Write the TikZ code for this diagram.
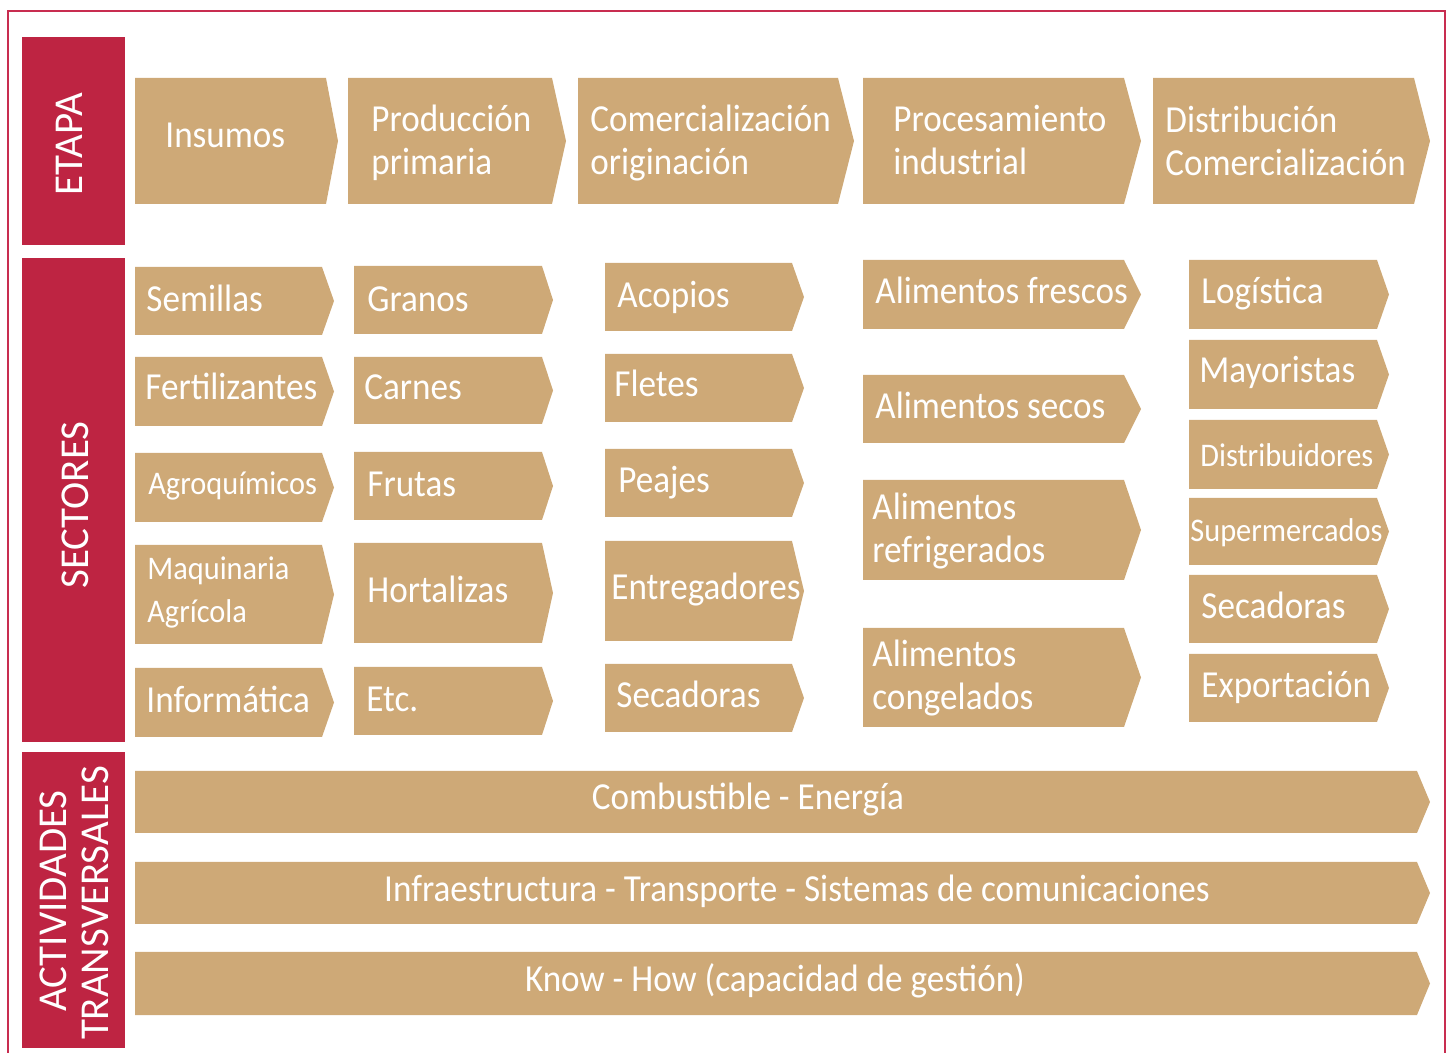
\documentclass[tikz,border=0pt]{standalone}
\usepackage{fontspec}
\setmainfont{Carlito}[FakeStretch=0.92]
\newfontfamily\hdrfont{Carlito}
\usepackage{xcolor}

\definecolor{cvred}{RGB}{190,36,66}
\definecolor{cvframe}{RGB}{200,45,80}
\definecolor{cvtan}{RGB}{206,169,119}

\tikzset{
  lab/.style={text=white,font=\fontsize{19.1}{21.5}\selectfont,inner sep=0pt,align=left},
  hdr/.style={text=white,font=\hdrfont\fontsize{20.5}{24}\selectfont,inner sep=0pt,rotate=90,anchor=base},
}
\newcommand{\smtxt}{\fontsize{16.5}{18.5}\selectfont}
% tan box with a pointed right end: x1, y1, x2 (flat end), y2, x of tip
\newcommand{\chev}[5]{\fill[cvtan] (#1,#2) -- (#3,#2) -- (#5,{(#2+#4)/2}) -- (#3,#4) -- (#1,#4) -- cycle;}

\begin{document}
\begin{tikzpicture}[x=0.5pt,y=-0.5pt]
  \useasboundingbox (0,0) rectangle (1448,1053);
  \draw[cvframe,line width=1pt] (8,11) rectangle (1445,1090);

  % row headers
  \fill[cvred] (22,37) rectangle (125,245);
  \fill[cvred] (22,258) rectangle (125,742);
  \fill[cvred] (22,752) rectangle (125,1048);
  \node[hdr] (etapa) at (83,144) {ETAPA};
  \node[hdr] (sect) at (88,505) {SECTORES};
  \node[hdr] (actA) at (66,901) {ACTIVIDADES};
  \node[hdr] (actB) at (108,903) {TRANSVERSALES};

  % stages (baseline = last line)
  \foreach \nm/\xa/\xb/\tip/\tx/\bl/\lab in {
     ins/135/326/338/165/148/{Insumos},
     prod/348/552/566/371/175/{Producción\\primaria},
     com/578/838/854/590/175/{Comercialización\\originación},
     proc/863/1124/1141/893/175/{Procesamiento\\industrial},
     dist/1153/1414/1430/1165/176/{Distribución\\Comercialización}}{
    \chev{\xa}{78}{\xb}{204}{\tip}
    \node[lab,anchor=base west] (\nm) at (\tx,\bl) {\lab};
  }

  % sectors, column by column:  name / top / bottom / baseline / text x / label
  \foreach \nm/\ya/\yb/\bl/\tx/\lab in {
     sem/267/335/312/146/{Semillas},
     fer/357/426/400/145/{Fertilizantes},
     agr/453/522/495/148/{\smtxt Agroquímicos},
     maq/545/644/623/147/{\smtxt Maquinaria\\\smtxt Agrícola},
     inf/668/737/713/146/{Informática}}{
    \chev{135}{\ya}{322}{\yb}{334}
    \node[lab,anchor=base west] (\nm) at (\tx,\bl) {\lab};
  }
  \foreach \nm/\ya/\yb/\bl/\tx/\lab in {
     gra/266/334/312/367/{Granos},
     car/357/424/400/364/{Carnes},
     fru/452/520/497/367/{Frutas},
     hor/543/643/603/367/{Hortalizas},
     etc/667/735/712/366/{Etc.}}{
    \chev{354}{\ya}{542}{\yb}{553}
    \node[lab,anchor=base west] (\nm) at (\tx,\bl) {\lab};
  }
  \foreach \nm/\ya/\yb/\bl/\tx/\lab in {
     aco/263/331/308/617/{Acopios},
     fle/354/422/397/614/{Fletes},
     pea/449/517/493/618/{Peajes},
     ent/541/641/600/611/{Entregadores},
     seca/664/732/708/616/{Secadoras}}{
    \chev{605}{\ya}{792}{\yb}{804}
    \node[lab,anchor=base west] (\nm) at (\tx,\bl) {\lab};
  }
  \foreach \nm/\ya/\yb/\bl/\tx/\lab in {
     fre/260/329/304/875/{Alimentos frescos},
     sco/375/443/419/875/{Alimentos secos},
     ref/480/580/563/872/{Alimentos\\refrigerados},
     con/628/727/710/872/{Alimentos\\congelados}}{
    \chev{863}{\ya}{1124}{\yb}{1141}
    \node[lab,anchor=base west] (\nm) at (\tx,\bl) {\lab};
  }
  \foreach \nm/\ya/\yb/\bl/\tx/\lab in {
     log/260/329/304/1201/{Logística},
     may/340/409/383/1199/{Mayoristas},
     dis/420/489/467/1200/{\smtxt Distribuidores},
     sup/498/565/542/1190/{\smtxt Supermercados},
     secb/575/643/619/1201/{Secadoras},
     exp/654/722/698/1201/{Exportación}}{
    \chev{1189}{\ya}{1377}{\yb}{1389}
    \node[lab,anchor=base west] (\nm) at (\tx,\bl) {\lab};
  }

  % cross-cutting activities
  \foreach \nm/\ya/\yb/\cx/\bl/\lab in {
     comb/771/833/748/810/{Combustible - Energía},
     infra/862/924/797/901/{Infraestructura - Transporte - Sistemas de comunicaciones},
     know/952/1015/775/992/{Know - How (capacidad de gestión)}}{
    \chev{135}{\ya}{1417}{\yb}{1430}
    \node[lab,anchor=base] (\nm) at (\cx,\bl) {\lab};
  }
\end{tikzpicture}
\end{document}
